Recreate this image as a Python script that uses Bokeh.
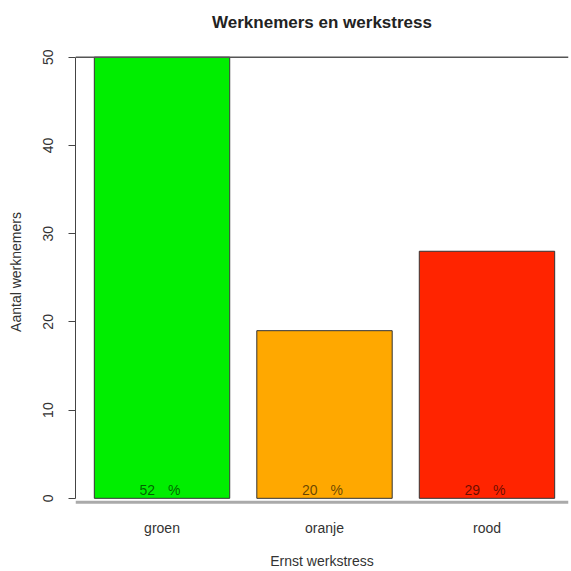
from bokeh.plotting import figure
from bokeh.models import Range1d, FixedTicker, Span, ColumnDataSource
from bokeh.core.properties import value
from bokeh.embed import file_html
from bokeh.resources import INLINE

# ---- data ----
categories = ["groen", "oranje", "rood"]
counts = [50, 19, 28]
bar_colors = ["#00ee00", "#ffa800", "#ff2400"]
y_ticks = [0, 10, 20, 30, 40, 50]

total = sum(counts)
pct = [round(c / total * 100) for c in counts]
xpos = list(range(len(categories)))

FONT = "Liberation Sans"

p = figure(width=571, height=571, output_backend="svg", toolbar_location=None,
           x_range=Range1d(-0.5325, 2.5017), y_range=Range1d(-0.7, 52),
           min_border_left=75, min_border_right=3, min_border_top=39, min_border_bottom=67)
p.outline_line_color = None
p.xgrid.visible = False
p.ygrid.visible = False
p.background_fill_color = "white"

src = ColumnDataSource(dict(x=xpos, top=counts, color=bar_colors,
                            num=[str(v) for v in pct], pc=["%"] * len(pct)))
p.vbar(x="x", top="top", bottom=0, width=1 / 1.2, fill_color="color",
       line_color="#333333", line_width=1, source=src)

# reference lines
p.add_layout(Span(location=50, dimension="width", line_color="#555555", line_width=1.5))
p.add_layout(Span(location=-0.45, dimension="width", line_color="#aaaaaa", line_width=3))

# percentage labels
label_y = 1
p.text(x="x", y=label_y, text="num", source=src, text_align="right", text_baseline="middle",
       x_offset=-7, text_font=value(FONT), text_font_size="14px", text_color="black", text_alpha=0.6)
p.text(x="x", y=label_y, text="pc", source=src, text_align="left", text_baseline="middle",
       x_offset=6, text_font=value(FONT), text_font_size="14px", text_color="black", text_alpha=0.6)

# title
p.title.text = "Werknemers en werkstress"
p.title.align = "center"
p.title.text_font = FONT
p.title.text_font_size = "17px"
p.title.text_font_style = "bold"
p.title.text_color = "#222222"
p.title.standoff = 15

# x axis
xa = p.xaxis[0]
xa.ticker = FixedTicker(ticks=xpos)
xa.major_label_overrides = {i: c for i, c in zip(xpos, categories)}
xa.axis_line_color = None
xa.major_tick_line_color = None
xa.major_tick_out = 0
xa.major_tick_in = 0
xa.minor_tick_line_color = None
xa.minor_tick_out = 0
xa.major_label_standoff = 15
xa.major_label_text_font = FONT
xa.major_label_text_font_size = "14px"
xa.major_label_text_color = "#333333"
xa.axis_label = "Ernst werkstress"
xa.axis_label_text_font = FONT
xa.axis_label_text_font_size = "14px"
xa.axis_label_text_font_style = "normal"
xa.axis_label_text_color = "#333333"
xa.axis_label_standoff = 14

# y axis
ya = p.yaxis[0]
ya.ticker = FixedTicker(ticks=y_ticks)
ya.bounds = (0, 50)
ya.axis_line_color = "#444444"
ya.major_tick_line_color = "#444444"
ya.major_tick_out = 7
ya.major_tick_in = 0
ya.minor_tick_line_color = None
ya.major_label_orientation = "vertical"
ya.major_label_standoff = 15
ya.major_label_text_font = FONT
ya.major_label_text_font_size = "14px"
ya.major_label_text_color = "#333333"
ya.axis_label = "Aantal werknemers"
ya.axis_label_text_font = FONT
ya.axis_label_text_font_size = "14px"
ya.axis_label_text_font_style = "normal"
ya.axis_label_text_color = "#333333"
ya.axis_label_standoff = 17

open("out.html", "w").write(file_html(p, INLINE))
